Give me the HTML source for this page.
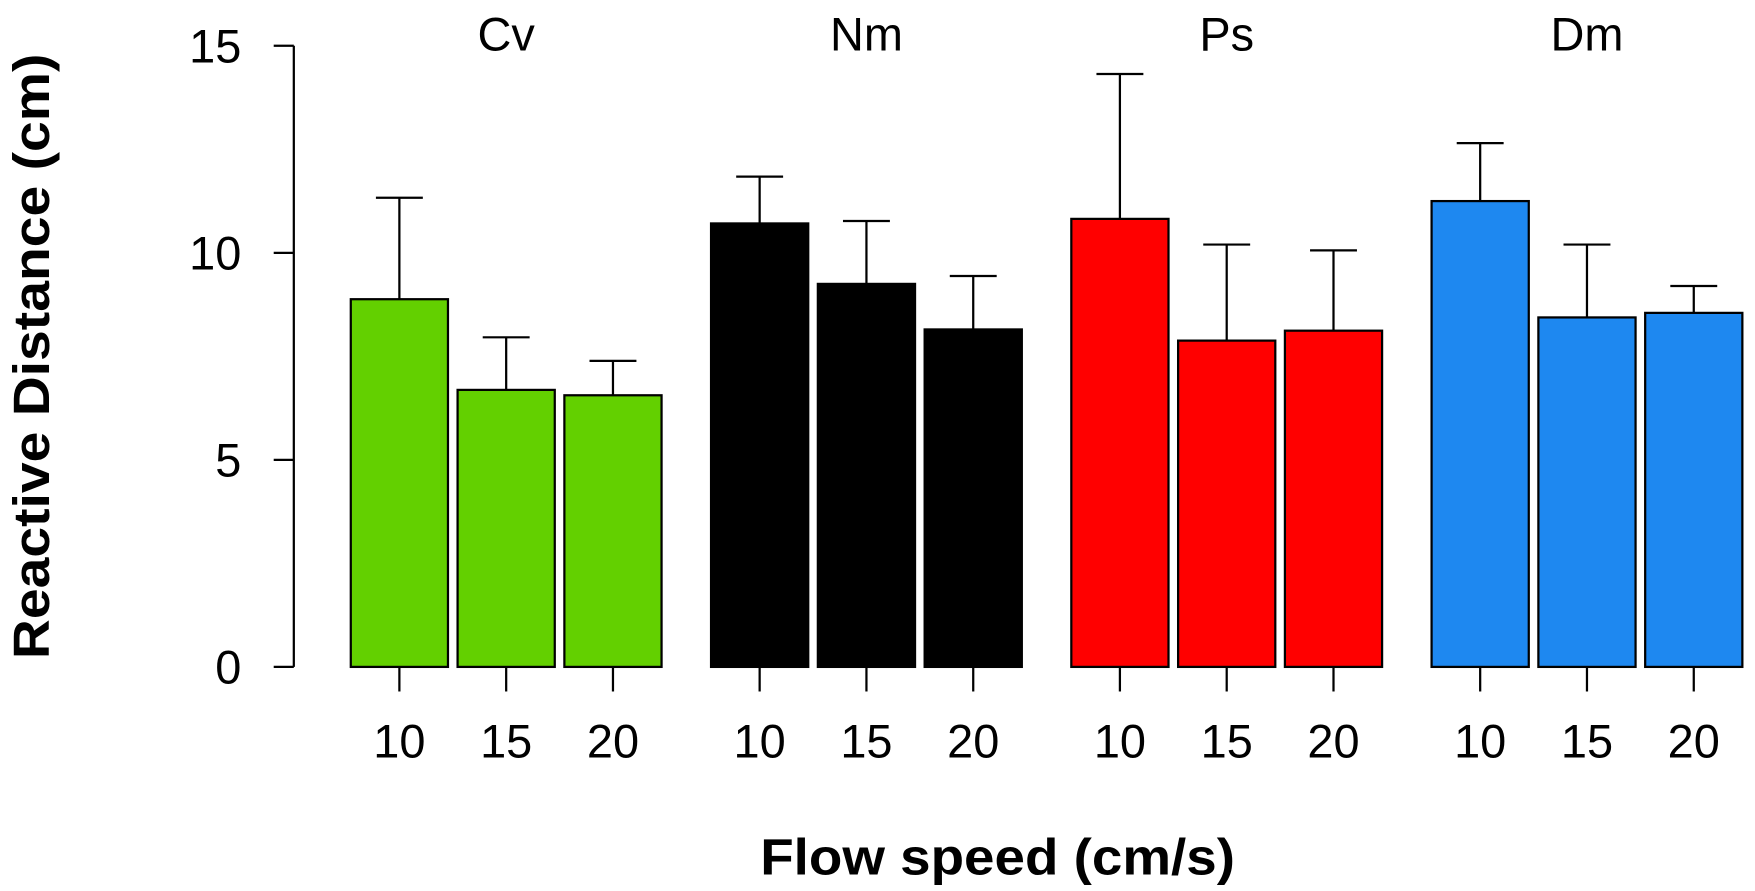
<!DOCTYPE html>
<html><head><meta charset="utf-8"><style>
html,body{margin:0;padding:0;background:#fff;}
svg{display:block;}
text{font-family:"Liberation Sans",Arial,sans-serif;fill:#000;}
</style></head><body>
<svg id="chart" width="1755" height="891" viewBox="0 0 1571 797.6" xmlns="http://www.w3.org/2000/svg">
<g id="g"></g>
</svg>
<script>
const groups = ["Cv","Nm","Ps","Dm"];
const speeds = ["10","15","20"];
const colors = ["#63d000","#000000","#ff0000","#1e88f0"];
const means = [[8.88,6.69,6.56],[10.71,9.25,8.15],[10.82,7.88,8.12],[11.25,8.44,8.55]];
const uppers = [[11.33,7.96,7.39],[11.84,10.77,9.44],[14.32,10.2,10.06],[12.65,10.2,9.2]];
const yTicks = [0,5,10,15];

const NS="http://www.w3.org/2000/svg";
const g=document.getElementById('g');
const y0=597, y15=41;
const Y=v=>y0-(y0-y15)*v/15;
const barW=87, step=95.6, groupStep=322.5, x0=357.5;
const X=(gi,si)=>x0+gi*groupStep+si*step;
function el(tag,attrs){const e=document.createElementNS(NS,tag);for(const k in attrs)e.setAttribute(k,attrs[k]);g.appendChild(e);return e;}

const ax=el('line',{x1:263,y1:Y(0),x2:263,y2:Y(15),stroke:'#000','stroke-width':2});


yTicks.forEach(t=>{
  const l=el('line',{x1:245,y1:Y(t),x2:263,y2:Y(t),stroke:'#000','stroke-width':2});
  
  
  const tx=el('text',{x:216,y:Y(t)+15,'text-anchor':'end','font-size':42});
  tx.textContent=t;
  
  
});

groups.forEach((gn,gi)=>{
  const t=el('text',{x:X(gi,1),y:45,'text-anchor':'middle','font-size':42});
  t.textContent=gn;
  
  
  speeds.forEach((sp,si)=>{
    const cx=X(gi,si);
    const e1=el('line',{x1:cx,y1:Y(means[gi][si]),x2:cx,y2:Y(uppers[gi][si]),stroke:'#000','stroke-width':2});
    
    
    const e2=el('line',{x1:cx-21,y1:Y(uppers[gi][si]),x2:cx+21,y2:Y(uppers[gi][si]),stroke:'#000','stroke-width':2});
    
    
    const r=el('rect',{x:cx-barW/2,y:Y(means[gi][si]),width:barW,height:Y(0)-Y(means[gi][si]),fill:colors[gi],stroke:'#000','stroke-width':2});
    
    
    const tk=el('line',{x1:cx,y1:Y(0),x2:cx,y2:Y(0)+22,stroke:'#000','stroke-width':2});
    
    
    const lb=el('text',{x:cx,y:678,'text-anchor':'middle','font-size':42});
    lb.textContent=sp;
    
    
  });
});
const xt=el('text',{x:893,y:783,'text-anchor':'middle','font-size':46,'font-weight':'bold',textLength:425,lengthAdjust:'spacingAndGlyphs'});
xt.textContent='Flow speed (cm/s)';


const yt=el('text',{x:0,y:0,'text-anchor':'middle','font-size':46,'font-weight':'bold',textLength:542,lengthAdjust:'spacingAndGlyphs',transform:'translate(44,319) rotate(-90)'});
yt.textContent='Reactive Distance (cm)';


</script>
</body></html>
